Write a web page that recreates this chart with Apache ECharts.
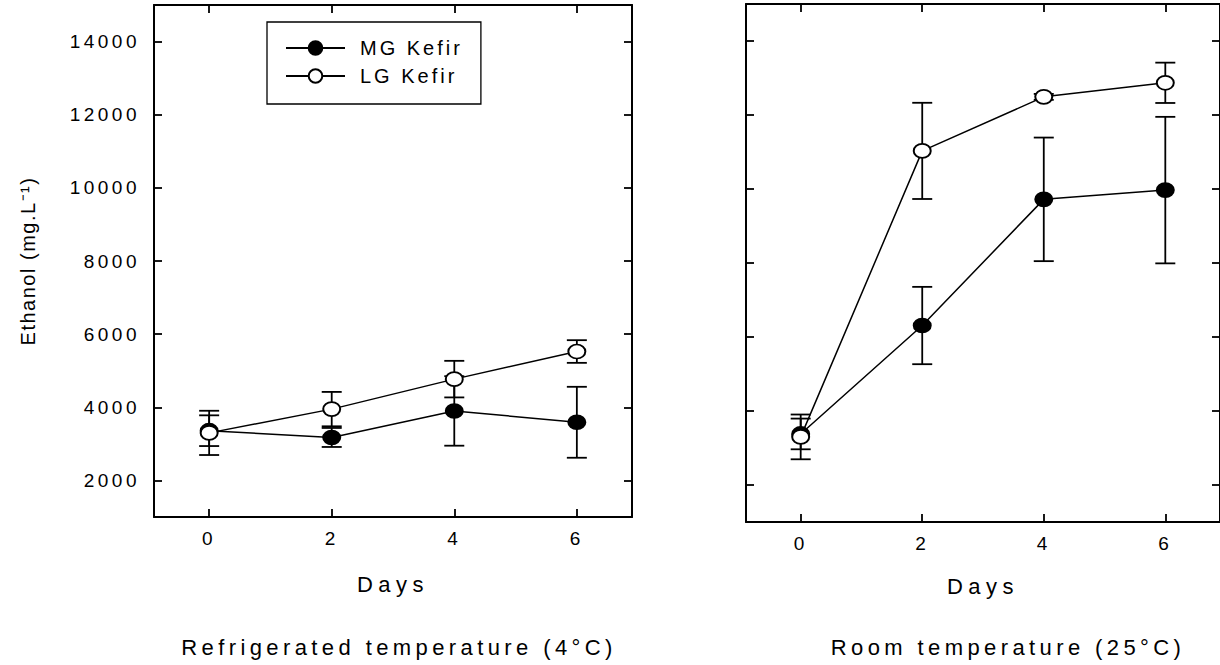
<!DOCTYPE html>
<html>
<head>
<meta charset="utf-8">
<script src="https://cdn.jsdelivr.net/npm/echarts@6/dist/echarts.min.js"></script>
<style>
  html, body { margin: 0; padding: 0; background: #fff; }
  #chart { width: 1220px; height: 665px; }
</style>
</head>
<body>
<div id="chart"></div>
<script>
// Sampling days and axis ticks
const days = [0, 2, 4, 6];
const dayTicks = [0, 2, 4, 6];
const ethanolTicks = [2000, 4000, 6000, 8000, 10000, 12000, 14000];

// Refrigerated storage (4 °C): mean ethanol and SD, mg/L
const mgCold = [3360, 3175, 3900, 3590];
const mgColdSd = [420, 260, 950, 970];
const lgCold = [3300, 3950, 4770, 5525];
const lgColdSd = [605, 470, 500, 310];

// Room temperature storage (25 °C): mean ethanol and SD, mg/L
const mgRoom = [3380, 6310, 9720, 9970];
const mgRoomSd = [415, 1045, 1670, 1980];
const lgRoom = [3300, 11030, 12490, 12870];
const lgRoomSd = [605, 1300, 80, 545];

const seriesNames = ['MG Kefir', 'LG Kefir'];
const panelCaptions = ['Refrigerated temperature (4°C)', 'Room temperature (25°C)'];
const yAxisTitle = 'Ethanol (mg.L\u207B\u00B9)';

const INK = '#000';
const FONT = "'Liberation Sans', Arial, Helvetica, sans-serif";
const ELLIPSE = 'path://M0,-10A10,10,0,1,1,0,10A10,10,0,1,1,0,-10Z';

const dom = document.getElementById('chart');
const chart = echarts.init(dom, null, { renderer: 'svg' });

const frameLine = { show: true, onZero: false, lineStyle: { color: INK, width: 2 } };
function ticks(values) {
  return { show: true, inside: true, length: 8, customValues: values, lineStyle: { color: INK, width: 1.8 } };
}
const plainNumber = v => String(v);

function xAxesFor(g, labelMargin, nameGap) {
  return [
    {
      gridIndex: g, type: 'value', position: 'bottom', min: -0.9, max: 6.9,
      axisLine: frameLine, axisTick: ticks(dayTicks), splitLine: { show: false },
      axisLabel: {
        show: true, customValues: dayTicks, margin: labelMargin, formatter: plainNumber,
        color: INK, fontSize: 19, fontFamily: FONT
      },
      name: 'Days', nameLocation: 'middle', nameGap: nameGap,
      nameTextStyle: { fontSize: 22, color: INK, fontFamily: FONT }
    },
    {
      gridIndex: g, type: 'value', position: 'top', min: -0.9, max: 6.9,
      axisLine: frameLine, axisTick: ticks(dayTicks), splitLine: { show: false },
      axisLabel: { show: false }
    }
  ];
}

function yAxesFor(g, withLabels) {
  const left = {
    gridIndex: g, type: 'value', position: 'left', min: 1000, max: 15000,
    axisLine: frameLine, axisTick: ticks(ethanolTicks), splitLine: { show: false },
    axisLabel: withLabels
      ? {
          show: true, customValues: ethanolTicks, margin: 14, formatter: plainNumber,
          color: INK, fontSize: 19, fontFamily: FONT
        }
      : { show: false }
  };
  if (withLabels) {
    Object.assign(left, {
      name: yAxisTitle, nameLocation: 'middle', nameRotate: 90, nameGap: 116,
      nameTextStyle: { fontSize: 20, color: INK, fontFamily: FONT }
    });
  }
  const right = {
    gridIndex: g, type: 'value', position: 'right', min: 1000, max: 15000,
    axisLine: frameLine, axisTick: ticks(ethanolTicks), splitLine: { show: false },
    axisLabel: { show: false }
  };
  return [left, right];
}

// Vertical SD bars with end caps, placed through the axis scales
function sdSeries(name, xi, yi, mean, sd, z) {
  return {
    type: 'custom', name, xAxisIndex: xi, yAxisIndex: yi, z, silent: true,
    data: days.map((d, i) => [d, mean[i] - sd[i], mean[i] + sd[i]]),
    encode: { x: 0, y: [1, 2] },
    renderItem(params, api) {
      const hi = api.coord([api.value(0), api.value(2)]);
      const lo = api.coord([api.value(0), api.value(1)]);
      const cap = 10;
      const st = { stroke: INK, lineWidth: 1.8 };
      return {
        type: 'group',
        children: [
          { type: 'line', shape: { x1: hi[0], y1: hi[1], x2: lo[0], y2: lo[1] }, style: st },
          { type: 'line', shape: { x1: hi[0] - cap, y1: hi[1], x2: hi[0] + cap, y2: hi[1] }, style: st },
          { type: 'line', shape: { x1: lo[0] - cap, y1: lo[1], x2: lo[0] + cap, y2: lo[1] }, style: st }
        ]
      };
    }
  };
}

function meanSeries(name, xi, yi, mean, filled, z) {
  return {
    type: 'line', name, xAxisIndex: xi, yAxisIndex: yi, z, silent: true,
    data: days.map((d, i) => [d, mean[i]]),
    symbol: ELLIPSE, symbolSize: [17, 14], showSymbol: true,
    lineStyle: { color: INK, width: 1.5 },
    itemStyle: { color: filled ? INK : '#fff', borderColor: INK, borderWidth: 1.8, opacity: 1 },
    emphasis: { disabled: true }
  };
}

const option = {
  animation: false,
  backgroundColor: '#fff',
  grid: [
    { left: 154, top: 5, width: 478, height: 512 },
    { left: 746, top: 4, width: 477, height: 518 }
  ],
  xAxis: [...xAxesFor(0, 12, 56), ...xAxesFor(1, 12, 53)],
  yAxis: [...yAxesFor(0, true), ...yAxesFor(1, false)],
  legend: {
    data: seriesNames, orient: 'vertical', left: 267, top: 22,
    padding: [16, 42, 18, 18], itemGap: 8, itemWidth: 59, itemHeight: 17,
    borderColor: INK, borderWidth: 1.3, selectedMode: false,
    textStyle: { fontSize: 20, color: INK, fontFamily: FONT, padding: [0, 0, 0, 10] }
  },
  graphic: panelCaptions.map((text, i) => ({
    type: 'text', x: [399, 1008][i], y: 647, silent: true,
    style: {
      text, font: '22px ' + FONT, fill: INK,
      align: 'center', verticalAlign: 'middle', textAlign: 'center', textVerticalAlign: 'middle'
    }
  })),
  series: [
    sdSeries('MG Kefir SD 4°C', 0, 0, mgCold, mgColdSd, 2),
    meanSeries(seriesNames[0], 0, 0, mgCold, true, 3),
    sdSeries('LG Kefir SD 4°C', 0, 0, lgCold, lgColdSd, 4),
    meanSeries(seriesNames[1], 0, 0, lgCold, false, 5),
    sdSeries('MG Kefir SD 25°C', 2, 2, mgRoom, mgRoomSd, 2),
    meanSeries(seriesNames[0], 2, 2, mgRoom, true, 3),
    sdSeries('LG Kefir SD 25°C', 2, 2, lgRoom, lgRoomSd, 4),
    meanSeries(seriesNames[1], 2, 2, lgRoom, false, 5)
  ]
};

chart.setOption(option);

// Wide letter spacing of the printed figure's typeface
const LETTER_SPACING = [
  [/^\d+$/, 3.5],
  [/^Days$/, 5.5],
  [/temperature/, 4.4],
  [/Kefir/, 3],
  [/Ethanol/, 1.5]
];
function spaceLetters() {
  dom.querySelectorAll('text').forEach(t => {
    const s = t.textContent;
    for (const [re, px] of LETTER_SPACING) {
      if (re.test(s)) { t.style.letterSpacing = px + 'px'; break; }
    }
  });
}
chart.on('finished', spaceLetters);
spaceLetters();
setTimeout(spaceLetters, 50);
</script>
</body>
</html>
